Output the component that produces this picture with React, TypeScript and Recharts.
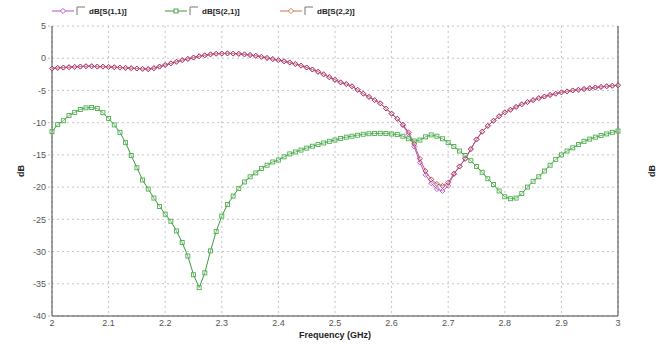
import React from 'react';
import { LineChart, Line, XAxis, YAxis, CartesianGrid } from 'recharts';

const FREQ_START = 2;
const FREQ_STEP = 0.01;

const S11 = [
  -1.6, -1.5, -1.45, -1.4, -1.35, -1.3, -1.25, -1.25, -1.3, -1.3,
  -1.35, -1.4, -1.45, -1.5, -1.55, -1.6, -1.65, -1.7, -1.55, -1.3,
  -1.05, -0.8, -0.55, -0.3, -0.1, 0.1, 0.3, 0.45, 0.6, 0.7,
  0.73, 0.75, 0.72, 0.68, 0.6, 0.5, 0.38, 0.22, 0.05, -0.13,
  -0.3, -0.48, -0.66, -0.9, -1.15, -1.44, -1.75, -2.1, -2.5, -2.95,
  -3.35, -3.75, -4.0, -4.35, -4.9, -5.5, -6.0, -6.5, -7.0, -7.8,
  -8.6, -9.4, -10.4, -11.8, -13.7, -16.2, -18.1, -19.4, -20.3, -20.6,
  -19.8, -18.0, -16.8, -15.6, -14.1, -12.6, -11.4, -10.5, -9.7, -9.0,
  -8.4, -8.0, -7.55, -7.15, -6.8, -6.5, -6.2, -5.95, -5.7, -5.5,
  -5.3, -5.15, -5.0, -4.9, -4.78, -4.66, -4.55, -4.45, -4.35, -4.27,
  -4.2,
];

const S21 = [
  -11.4, -10.3, -9.7, -8.9, -8.4, -7.95, -7.7, -7.65, -7.8, -8.45,
  -9.35, -10.35, -11.5, -13.1, -15.1, -17.0, -18.9, -20.3, -21.7, -23.0,
  -24.2, -25.3, -26.8, -28.6, -30.7, -33.6, -35.6, -33.3, -29.9, -26.9,
  -24.5, -22.7, -21.4, -20.2, -19.2, -18.4, -17.8, -17.1, -16.6, -16.1,
  -15.8, -15.3, -14.85, -14.55, -14.25, -13.95, -13.65, -13.4, -13.15, -12.9,
  -12.7, -12.45, -12.25, -12.1, -11.95, -11.8, -11.72, -11.68, -11.65, -11.68,
  -11.75, -11.85, -12.1, -12.5, -12.85, -12.7, -12.2, -11.9, -12.1, -12.5,
  -13.1, -13.7, -14.4, -15.1, -15.9, -16.8, -17.7, -18.7, -19.6, -20.6,
  -21.5, -21.8, -21.7, -21.0, -20.0, -19.1, -18.4, -17.5, -16.6, -15.7,
  -15.0, -14.4, -13.9, -13.4, -12.9, -12.55, -12.25, -12.0, -11.75, -11.5,
  -11.3,
];

const S22 = [
  -1.6, -1.5, -1.45, -1.4, -1.35, -1.3, -1.25, -1.25, -1.3, -1.3,
  -1.35, -1.4, -1.45, -1.5, -1.55, -1.6, -1.65, -1.7, -1.55, -1.3,
  -1.05, -0.8, -0.55, -0.3, -0.1, 0.1, 0.3, 0.45, 0.6, 0.7,
  0.73, 0.75, 0.72, 0.68, 0.6, 0.5, 0.38, 0.22, 0.05, -0.13,
  -0.3, -0.48, -0.66, -0.9, -1.15, -1.44, -1.75, -2.1, -2.5, -2.95,
  -3.35, -3.75, -4.0, -4.35, -4.9, -5.5, -6.0, -6.5, -7.0, -7.8,
  -8.6, -9.4, -10.3, -11.5, -13.3, -15.6, -17.5, -18.8, -19.5, -19.8,
  -19.3, -17.9, -16.8, -15.6, -14.1, -12.6, -11.4, -10.5, -9.7, -9.0,
  -8.4, -8.0, -7.55, -7.15, -6.8, -6.5, -6.2, -5.95, -5.7, -5.5,
  -5.3, -5.15, -5.0, -4.9, -4.78, -4.66, -4.55, -4.45, -4.35, -4.27,
  -4.2,
];

const X_TICKS = [2, 2.1, 2.2, 2.3, 2.4, 2.5, 2.6, 2.7, 2.8, 2.9, 3];
const Y_TICKS = [5, 0, -5, -10, -15, -20, -25, -30, -35, -40];
const SERIES_NAMES = ['dB[S(1,1)]', 'dB[S(2,1)]', 'dB[S(2,2)]'];
const SERIES_COLORS = ['#b450c8', '#3c9a3c', '#b23a48'];
const SERIES_MARKERS = ['diamond', 'square', 'diamond'];

const data = S11.map((v, i) => ({
  f: Math.round((FREQ_START + i * FREQ_STEP) * 100) / 100,
  s11: v,
  s21: S21[i],
  s22: S22[i],
}));

const FONT = '"Liberation Sans", Arial, sans-serif';

const makeDot = (kind: string, color: string) => (props: any) => {
  const { cx, cy, index } = props;
  if (cx == null || cy == null) return <g key={index} />;
  if (kind === 'square') {
    return (
      <rect key={index} x={cx - 2} y={cy - 2} width={4} height={4} fill="white" fillOpacity={0.3} stroke={color} strokeWidth={0.9} />
    );
  }
  const r = 2.5;
  return (
    <path
      key={index}
      d={`M${cx},${cy - r}L${cx + r},${cy}L${cx},${cy + r}L${cx - r},${cy}Z`}
      fill="white"
      fillOpacity={0.2}
      stroke={color}
      strokeWidth={0.9}
    />
  );
};

const LegendSymbol = ({ color, kind }: { color: string; kind: string }) => (
  <svg width={34} height={10} style={{ display: 'block' }}>
    <line x1={0} y1={5} x2={22} y2={5} stroke={color} strokeWidth={1} />
    {kind === 'square' ? (
      <rect x={9} y={3} width={4} height={4} fill="white" stroke={color} strokeWidth={0.9} />
    ) : (
      <path d="M11,2.4L13.6,5L11,7.6L8.4,5Z" fill="white" stroke={color} strokeWidth={0.9} />
    )}
    <path d="M25,9V1H33" fill="none" stroke="#777" strokeWidth={1} />
  </svg>
);

export default function App() {
  const tickStyle = { fontSize: 9, fill: '#555', fontFamily: FONT };
  const legendLefts = [52, 165, 280];
  const legendColors = ['#b450c8', '#3c9a3c', '#d07050'];
  return (
    <div style={{ position: 'absolute', left: 0, top: 0, width: 661, height: 344, background: '#fff' }}>
      {SERIES_NAMES.map((name, i) => (
        <div
          key={name}
          style={{
            position: 'absolute',
            left: legendLefts[i],
            top: 6,
            display: 'flex',
            alignItems: 'center',
            fontFamily: FONT,
            fontWeight: 'bold',
            fontSize: 8,
            color: '#222',
          }}
        >
          <LegendSymbol color={legendColors[i]} kind={SERIES_MARKERS[i]} />
          <span style={{ marginLeft: 3 }}>{name}</span>
        </div>
      ))}
      <LineChart
        width={661}
        height={344}
        data={data}
        margin={{ top: 26, right: 0, bottom: 0, left: 0 }}
      >
        <CartesianGrid
          xAxisId="bottom"
          yAxisId="left"
          stroke="#c4c4c4"
          strokeDasharray="2 3"
        />
        <XAxis
          xAxisId="bottom"
          dataKey="f"
          type="number"
          domain={[2, 3]}
          ticks={X_TICKS}
          interval={0}
          height={28}
          tick={tickStyle}
          tickLine={false}
          tickSize={0}
          tickMargin={4}
          axisLine={{ stroke: '#444' }}
          label={{
            value: 'Frequency (GHz)',
            position: 'insideBottom',
            offset: 6,
            style: { fontSize: 9, fontWeight: 'bold', fill: '#222', fontFamily: FONT },
          }}
        />
        <XAxis
          xAxisId="top"
          orientation="top"
          dataKey="f"
          type="number"
          domain={[2, 3]}
          height={0}
          tick={false}
          tickLine={false}
          axisLine={{ stroke: '#777' }}
        />
        <YAxis
          yAxisId="left"
          domain={[-40, 5]}
          ticks={Y_TICKS}
          interval={0}
          width={52}
          tick={tickStyle}
          tickSize={4}
          tickMargin={2}
          tickLine={{ stroke: '#bbb', strokeDasharray: '2 2' }}
          axisLine={{ stroke: '#444' }}
          label={{
            value: 'dB',
            angle: -90,
            position: 'insideLeft',
            offset: 21,
            style: { fontSize: 9, fontWeight: 'bold', fill: '#222', fontFamily: FONT, textAnchor: 'middle' },
          }}
        />
        <YAxis
          yAxisId="right"
          orientation="right"
          domain={[-40, 5]}
          ticks={Y_TICKS}
          interval={0}
          width={43}
          tick={tickStyle}
          tickSize={4}
          tickMargin={3}
          tickLine={{ stroke: '#bbb', strokeDasharray: '2 2' }}
          axisLine={{ stroke: '#444' }}
          label={{
            value: 'dB',
            angle: -90,
            position: 'insideRight',
            offset: 9,
            style: { fontSize: 9, fontWeight: 'bold', fill: '#222', fontFamily: FONT, textAnchor: 'middle' },
          }}
        />
        <Line
          xAxisId="bottom"
          yAxisId="left"
          dataKey="s11"
          name={SERIES_NAMES[0]}
          stroke={SERIES_COLORS[0]}
          strokeWidth={1}
          dot={makeDot(SERIES_MARKERS[0], SERIES_COLORS[0])}
          isAnimationActive={false}
        />
        <Line
          xAxisId="bottom"
          yAxisId="left"
          dataKey="s21"
          name={SERIES_NAMES[1]}
          stroke={SERIES_COLORS[1]}
          strokeWidth={1}
          dot={makeDot(SERIES_MARKERS[1], '#4cae4c')}
          isAnimationActive={false}
        />
        <Line
          xAxisId="bottom"
          yAxisId="left"
          dataKey="s22"
          name={SERIES_NAMES[2]}
          stroke={SERIES_COLORS[2]}
          strokeWidth={1}
          strokeOpacity={0.8}
          dot={makeDot(SERIES_MARKERS[2], SERIES_COLORS[2])}
          isAnimationActive={false}
        />
      </LineChart>
    </div>
  );
}
